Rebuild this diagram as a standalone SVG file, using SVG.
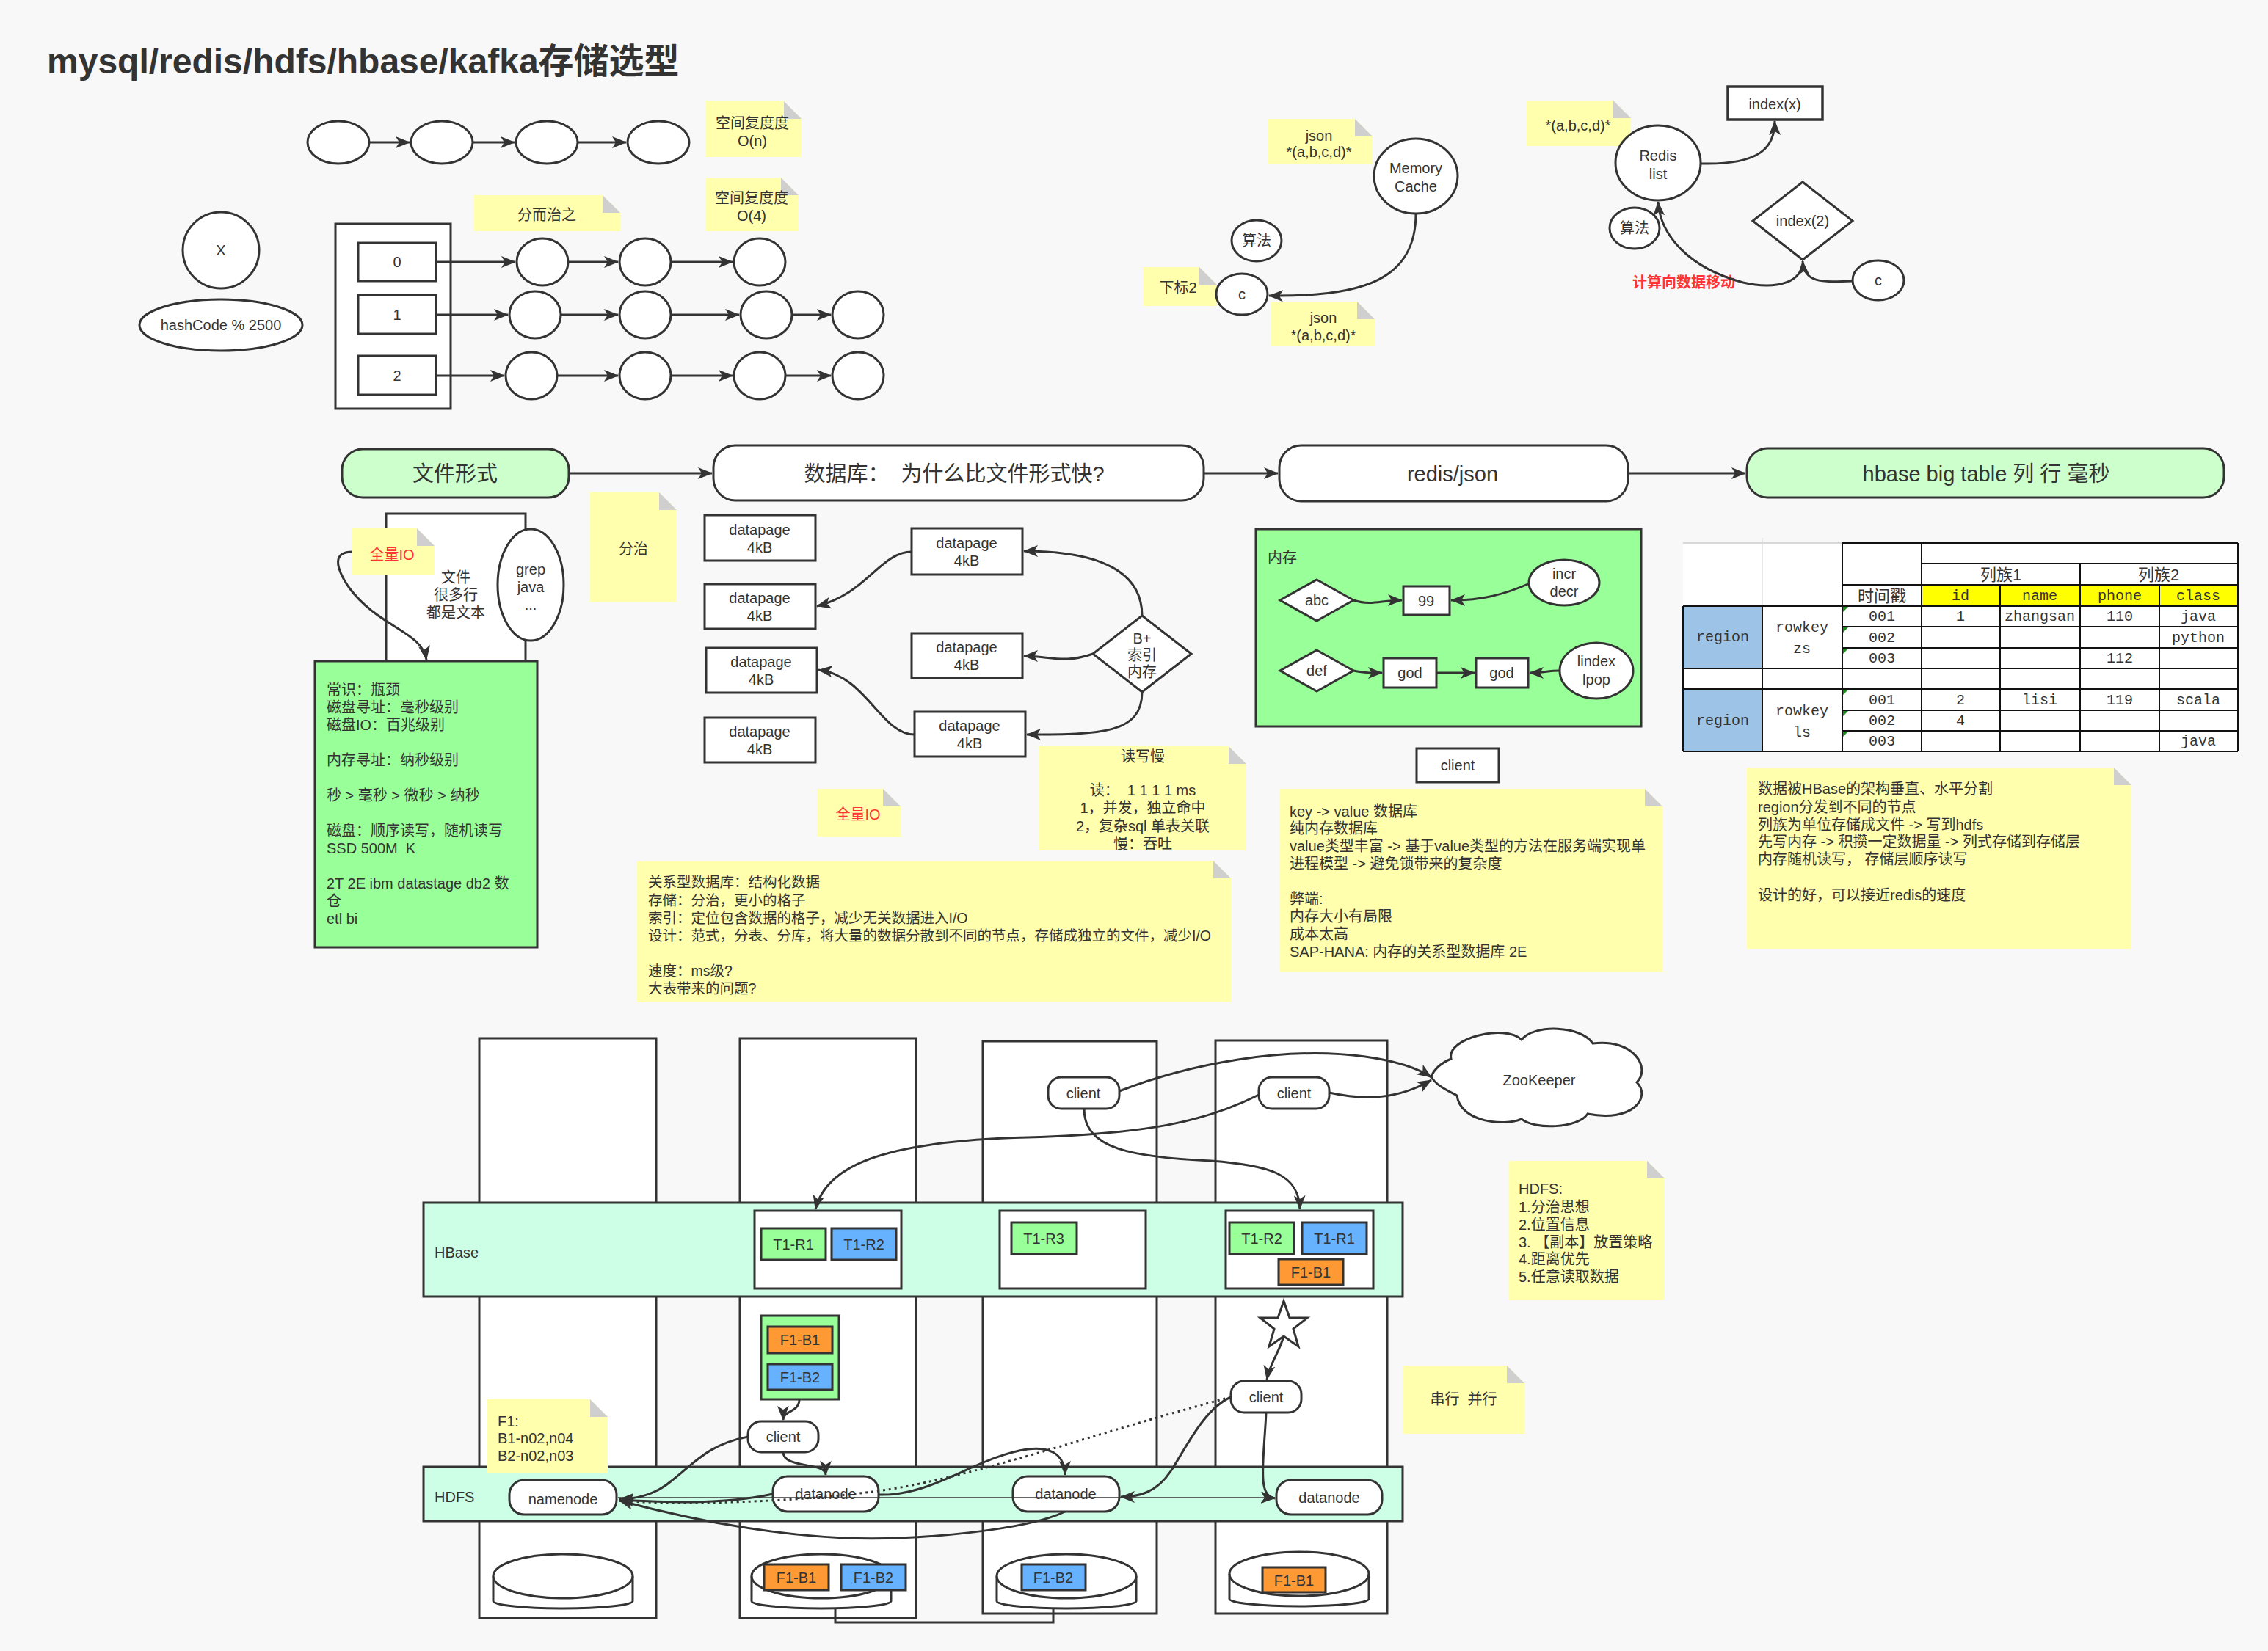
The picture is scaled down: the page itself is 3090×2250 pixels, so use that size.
<svg xmlns="http://www.w3.org/2000/svg" width="3090" height="2250" viewBox="0 0 3090 2250">
<defs>
<style>
text{font-family:"Liberation Sans","Noto Sans CJK SC",sans-serif;fill:#333;font-size:20px}
.c{text-anchor:middle;dominant-baseline:central}
.sh{fill:#fff;stroke:#333;stroke-width:3}
.note{fill:#ffffad}
.fold{fill:#cfcfcf}
.e{fill:none;stroke:#333;stroke-width:3;marker-end:url(#a)}
.thin{fill:none;stroke:#333;stroke-width:1.5;marker-end:url(#a)}
.dot{fill:none;stroke:#333;stroke-width:3;stroke-dasharray:3 5}
.g{fill:#99ff99}
.b{fill:#66b2ff}
.o{fill:#ff9933}
.m{fill:#ccffe6}
.lg{fill:#ccffcc}
.red{fill:#ff3333}
.hd{font-size:29px}
.tb{font-family:"Liberation Mono","Noto Sans CJK SC",monospace;font-size:20px}
.tc{font-size:22px}
.gl{stroke:#111;stroke-width:2;fill:none}
.sm{font-size:19.5px}
</style>
<marker id="a" viewBox="0 0 20 16" refX="19" refY="8" markerWidth="20" markerHeight="16" markerUnits="userSpaceOnUse" orient="auto">
<path d="M0,0 L20,8 L0,16 L5,8 Z" fill="#333"/>
</marker>
</defs>
<rect width="3090" height="2250" fill="#f8f8f8"/>

<text id="title" x="64" y="100" style="font-size:48px;font-weight:bold">mysql/redis/hdfs/hbase/kafka存储选型</text>

<!-- linked list -->
<g id="list-top">
<ellipse class="sh" cx="461" cy="194" rx="42" ry="29"/>
<ellipse class="sh" cx="602" cy="194" rx="42" ry="29"/>
<ellipse class="sh" cx="745" cy="194" rx="42" ry="29"/>
<ellipse class="sh" cx="897" cy="194" rx="42" ry="29"/>
</g>

<g id="note-on">
<polygon class="note" points="961,138 1068,138 1092,162 1092,214 961,214"/>
<polygon class="fold" points="1068,138 1068,162 1092,162"/>
<text class="c" x="1025" y="168">空间复度度</text>
<text class="c" x="1025" y="192">O(n)</text>
</g>
<g id="note-divide">
<polygon class="note" points="646,266 821,266 845,290 845,315 646,315"/>
<polygon class="fold" points="821,266 821,290 845,290"/>
<text class="c" x="745" y="293">分而治之</text>
</g>
<g id="note-o4">
<polygon class="note" points="961,242 1064,242 1088,266 1088,315 961,315"/>
<polygon class="fold" points="1064,242 1064,266 1088,266"/>
<text class="c" x="1024" y="270">空间复度度</text>
<text class="c" x="1024" y="294">O(4)</text>
</g>

<g id="x-node"><ellipse class="sh" cx="301" cy="341" rx="52" ry="52"/><text class="c" x="301" y="341">X</text></g>
<g id="hash-node"><ellipse class="sh" cx="301" cy="443" rx="111" ry="35"/><text class="c" x="301" y="443">hashCode % 2500</text></g>

<g id="hash-table">
<rect class="sh" x="457" y="305" width="157" height="252"/>
<rect class="sh" x="488" y="331" width="106" height="52"/><text class="c" x="541" y="357">0</text>
<rect class="sh" x="488" y="402" width="106" height="53"/><text class="c" x="541" y="429">1</text>
<rect class="sh" x="488" y="485" width="106" height="53"/><text class="c" x="541" y="512">2</text>
</g>
<g id="buckets">
<ellipse class="sh" cx="739" cy="357" rx="35" ry="32"/>
<ellipse class="sh" cx="879" cy="357" rx="35" ry="32"/>
<ellipse class="sh" cx="1035" cy="357" rx="35" ry="32"/>
<ellipse class="sh" cx="729" cy="429" rx="35" ry="32"/>
<ellipse class="sh" cx="879" cy="429" rx="35" ry="32"/>
<ellipse class="sh" cx="1044" cy="429" rx="35" ry="32"/>
<ellipse class="sh" cx="1169" cy="429" rx="35" ry="32"/>
<ellipse class="sh" cx="724" cy="512" rx="35" ry="32"/>
<ellipse class="sh" cx="879" cy="512" rx="35" ry="32"/>
<ellipse class="sh" cx="1035" cy="512" rx="35" ry="32"/>
<ellipse class="sh" cx="1169" cy="512" rx="35" ry="32"/>
</g>

<!-- memory cache / redis list -->
<g id="note-json1">
<polygon class="note" points="1728,162 1846,162 1870,186 1870,223 1728,223"/>
<polygon class="fold" points="1846,162 1846,186 1870,186"/>
<text class="c" x="1797" y="185">json</text>
<text class="c" x="1797" y="207">*(a,b,c,d)*</text>
</g>
<g id="memory-cache"><ellipse class="sh" cx="1929" cy="240" rx="57" ry="51"/><text class="c" x="1929" y="229">Memory</text><text class="c" x="1929" y="254">Cache</text></g>
<g id="algo1"><ellipse class="sh" cx="1712" cy="328" rx="34" ry="28"/><text class="c" x="1712" y="328">算法</text></g>
<g id="note-idx2">
<polygon class="note" points="1557,364 1634,364 1658,388 1658,417 1557,417"/>
<polygon class="fold" points="1634,364 1634,388 1658,388"/>
<text class="c" x="1605" y="392">下标2</text>
</g>
<g id="c1"><ellipse class="sh" cx="1692" cy="401" rx="35" ry="28"/><text class="c" x="1692" y="401">c</text></g>
<g id="note-json2">
<polygon class="note" points="1732,411 1849,411 1873,435 1873,472 1732,472"/>
<polygon class="fold" points="1849,411 1849,435 1873,435"/>
<text class="c" x="1803" y="433">json</text>
<text class="c" x="1803" y="457">*(a,b,c,d)*</text>
</g>
<g id="note-abcd">
<polygon class="note" points="2080,137 2198,137 2222,161 2222,199 2080,199"/>
<polygon class="fold" points="2198,137 2198,161 2222,161"/>
<text class="c" x="2150" y="171">*(a,b,c,d)*</text>
</g>
<g id="redis-list"><ellipse class="sh" cx="2259" cy="222" rx="58" ry="51"/><text class="c" x="2259" y="212">Redis</text><text class="c" x="2259" y="237">list</text></g>
<g id="index-x"><rect class="sh" x="2354" y="118" width="129" height="45" style="stroke-width:3.5"/><text class="c" x="2418" y="142">index(x)</text></g>
<g id="algo2"><ellipse class="sh" cx="2227" cy="311" rx="34" ry="28"/><text class="c" x="2227" y="311">算法</text></g>
<g id="index-2"><polygon class="sh" points="2456,248 2524,301 2456,354 2388,301"/><text class="c" x="2456" y="301">index(2)</text></g>
<g id="c2"><ellipse class="sh" cx="2559" cy="382" rx="35" ry="27"/><text class="c" x="2559" y="382">c</text></g>
<text id="compute-label" class="c red" x="2294" y="385" style="font-weight:bold">计算向数据移动</text>

<!-- stage headers -->
<g id="stage-file"><rect class="sh lg" x="466" y="612" width="309" height="66" rx="28"/><text class="c hd" x="620" y="646">文件形式</text></g>
<g id="stage-db"><rect class="sh" x="972" y="607" width="668" height="75" rx="30"/><text class="c hd" x="1300" y="646" xml:space="preserve">数据库：  为什么比文件形式快?</text></g>
<g id="stage-redis"><rect class="sh" x="1743" y="607" width="475" height="76" rx="30"/><text class="c hd" x="1979" y="646">redis/json</text></g>
<g id="stage-hbase"><rect class="sh lg" x="2380" y="611" width="650" height="67" rx="28"/><text class="c hd" x="2706" y="646">hbase big table 列 行 毫秒</text></g>

<!-- file form -->
<g id="file-box">
<rect class="sh" x="526" y="700" width="190" height="201"/>
<text class="c" x="621" y="787">文件</text>
<text class="c" x="621" y="811">很多行</text>
<text class="c" x="621" y="835">都是文本</text>
</g>
<g id="grep"><ellipse class="sh" cx="723" cy="797" rx="45" ry="76"/><text class="c" x="723" y="776">grep</text><text class="c" x="723" y="800">java</text><text class="c" x="723" y="824">...</text></g>
<g id="note-fullio1">
<polygon class="note" points="479,720 568,720 592,744 592,784 479,784"/>
<polygon class="fold" points="568,720 568,744 592,744"/>
<text class="c red" x="534" y="756">全量IO</text>
</g>
<g id="facts">
<rect class="sh g" x="429" y="901" width="303" height="390"/>
<text x="445" y="947">常识：瓶颈</text>
<text x="445" y="971">磁盘寻址：毫秒级别</text>
<text x="445" y="995">磁盘IO：百兆级别</text>
<text x="445" y="1043">内存寻址：纳秒级别</text>
<text x="445" y="1091">秒 &gt; 毫秒 &gt; 微秒 &gt; 纳秒</text>
<text x="445" y="1139">磁盘：顺序读写，随机读写</text>
<text x="445" y="1163" xml:space="preserve">SSD 500M  K</text>
<text x="445" y="1211">2T 2E ibm datastage db2 数</text>
<text x="445" y="1235">仓</text>
<text x="445" y="1259">etl bi</text>
</g>
<g id="note-fenzhi">
<polygon class="note" points="804,671 898,671 922,695 922,820 804,820"/>
<polygon class="fold" points="898,671 898,695 922,695"/>
<text class="c" x="863" y="748">分治</text>
</g>

<!-- database pages -->
<g id="dp-l1"><rect class="sh" x="960" y="702" width="151" height="62"/><text class="c" x="1035" y="722">datapage</text><text class="c" x="1035" y="746">4kB</text></g>
<g id="dp-l2"><rect class="sh" x="960" y="796" width="151" height="61"/><text class="c" x="1035" y="815">datapage</text><text class="c" x="1035" y="839">4kB</text></g>
<g id="dp-l3"><rect class="sh" x="962" y="883" width="151" height="61"/><text class="c" x="1037" y="902">datapage</text><text class="c" x="1037" y="926">4kB</text></g>
<g id="dp-l4"><rect class="sh" x="960" y="978" width="151" height="61"/><text class="c" x="1035" y="997">datapage</text><text class="c" x="1035" y="1021">4kB</text></g>
<g id="dp-r1"><rect class="sh" x="1242" y="720" width="151" height="63"/><text class="c" x="1317" y="740">datapage</text><text class="c" x="1317" y="764">4kB</text></g>
<g id="dp-r2"><rect class="sh" x="1242" y="863" width="151" height="61"/><text class="c" x="1317" y="882">datapage</text><text class="c" x="1317" y="906">4kB</text></g>
<g id="dp-r3"><rect class="sh" x="1246" y="970" width="151" height="61"/><text class="c" x="1321" y="989">datapage</text><text class="c" x="1321" y="1013">4kB</text></g>
<g id="bplus"><polygon class="sh" points="1556,839 1623,891 1556,943 1489,891"/><text class="c" x="1556" y="870">B+</text><text class="c" x="1556" y="893">索引</text><text class="c" x="1556" y="916">内存</text></g>
<g id="note-fullio2">
<polygon class="note" points="1113,1075 1203,1075 1227,1099 1227,1140 1113,1140"/>
<polygon class="fold" points="1203,1075 1203,1099 1227,1099"/>
<text class="c red" x="1169" y="1110">全量IO</text>
</g>
<g id="note-slow">
<polygon class="note" points="1416,1017 1674,1017 1698,1041 1698,1159 1416,1159"/>
<polygon class="fold" points="1674,1017 1674,1041 1698,1041"/>
<text class="c" x="1557" y="1031">读写慢</text>
<text class="c" x="1557" y="1077" xml:space="preserve">读：  1 1 1 1 ms</text>
<text class="c" x="1557" y="1101">1，并发，独立命中</text>
<text class="c" x="1557" y="1126">2，复杂sql 单表关联</text>
<text class="c" x="1557" y="1150">慢：吞吐</text>
</g>
<g id="note-rdb">
<polygon class="note" points="868,1173 1653,1173 1677,1197 1677,1366 868,1366"/>
<polygon class="fold" points="1653,1173 1653,1197 1677,1197"/>
<text class="sm" x="883" y="1209">关系型数据库：结构化数据</text>
<text class="sm" x="883" y="1234">存储：分治，更小的格子</text>
<text class="sm" x="883" y="1258">索引：定位包含数据的格子，减少无关数据进入I/O</text>
<text class="sm" x="883" y="1282">设计：范式，分表、分库，将大量的数据分散到不同的节点，存储成独立的文件，减少I/O</text>
<text class="sm" x="883" y="1330">速度：ms级?</text>
<text class="sm" x="883" y="1354">大表带来的问题?</text>
</g>

<!-- redis memory -->
<g id="redis-mem">
<rect class="sh g" x="1711" y="721" width="525" height="269"/>
<text x="1727" y="767">内存</text>
</g>
<g id="abc"><polygon class="sh" points="1794,790 1844,818 1794,846 1744,818"/><text class="c" x="1794" y="818">abc</text></g>
<g id="v99"><rect class="sh" x="1912" y="799" width="63" height="39"/><text class="c" x="1943" y="819">99</text></g>
<g id="incr"><ellipse class="sh" cx="2131" cy="794" rx="48" ry="31"/><text class="c" x="2131" y="782">incr</text><text class="c" x="2131" y="806">decr</text></g>
<g id="def"><polygon class="sh" points="1794,886 1844,914 1794,942 1744,914"/><text class="c" x="1794" y="914">def</text></g>
<g id="god1"><rect class="sh" x="1885" y="897" width="72" height="40"/><text class="c" x="1921" y="917">god</text></g>
<g id="god2"><rect class="sh" x="2011" y="897" width="71" height="40"/><text class="c" x="2046" y="917">god</text></g>
<g id="lindex"><ellipse class="sh" cx="2175" cy="914" rx="50" ry="38"/><text class="c" x="2175" y="901">lindex</text><text class="c" x="2175" y="926">lpop</text></g>
<g id="client-redis"><rect class="sh" x="1930" y="1020" width="112" height="46"/><text class="c" x="1986" y="1043">client</text></g>
<g id="note-kv">
<polygon class="note" points="1743,1075 2241,1075 2265,1099 2265,1324 1743,1324"/>
<polygon class="fold" points="2241,1075 2241,1099 2265,1099"/>
<text x="1757" y="1113">key -&gt; value 数据库</text>
<text x="1757" y="1136">纯内存数据库</text>
<text x="1757" y="1160">value类型丰富 -&gt; 基于value类型的方法在服务端实现单</text>
<text x="1757" y="1184">进程模型 -&gt; 避免锁带来的复杂度</text>
<text x="1757" y="1232">弊端:</text>
<text x="1757" y="1256">内存大小有局限</text>
<text x="1757" y="1280">成本太高</text>
<text x="1757" y="1304">SAP-HANA: 内存的关系型数据库 2E</text>
</g>

<!-- hbase table -->
<g id="hbase-table">
<rect x="2293" y="740" width="756" height="284" fill="#fff"/>
<line x1="2293" y1="740" x2="2510" y2="740" stroke="#ccc" stroke-width="1.5"/>
<line x1="2401" y1="733" x2="2401" y2="826" stroke="#e2e2e2" stroke-width="1.5"/>
<rect x="2618" y="797" width="431" height="29" fill="#ffff00"/>
<rect x="2293" y="826" width="108" height="85" fill="#9dc3e6"/>
<rect x="2293" y="939" width="108" height="85" fill="#9dc3e6"/>
<path class="gl" d="M2510,740H3049M2618,768H3049M2510,797H3049M2510,740V826M2618,740V826M3049,740V1024M2834,768V826M2725,797V826M2942,797V826"/>
<path class="gl" d="M2293,826H3049M2293,911H3049M2293,939H3049M2293,1024H3049M2510,854H3049M2510,883H3049M2510,968H3049M2510,996H3049"/>
<path class="gl" d="M2293,826V1024M2401,826V1024M2510,826V1024M2618,826V1024M2725,826V1024M2834,826V1024M2942,826V1024"/>
<g fill="#1a8a1a">
<polygon points="2511,827 2518,827 2511,834"/><polygon points="2511,855 2518,855 2511,862"/><polygon points="2511,884 2518,884 2511,891"/>
<polygon points="2511,940 2518,940 2511,947"/><polygon points="2511,969 2518,969 2511,976"/><polygon points="2511,997 2518,997 2511,1004"/>
</g>
<text class="c tc" x="2726" y="783">列族1</text>
<text class="c tc" x="2941" y="783">列族2</text>
<text class="c tc" x="2564" y="812">时间戳</text>
<text class="c tb" x="2671" y="812">id</text>
<text class="c tb" x="2779" y="812">name</text>
<text class="c tb" x="2888" y="812">phone</text>
<text class="c tb" x="2995" y="812">class</text>
<text class="c tb" x="2347" y="868">region</text>
<text class="c tb" x="2347" y="982">region</text>
<text class="c tb" x="2455" y="855">rowkey</text>
<text class="c tb" x="2455" y="884">zs</text>
<text class="c tb" x="2455" y="969">rowkey</text>
<text class="c tb" x="2455" y="998">ls</text>
<text class="c tb" x="2564" y="840">001</text>
<text class="c tb" x="2564" y="869">002</text>
<text class="c tb" x="2564" y="897">003</text>
<text class="c tb" x="2564" y="954">001</text>
<text class="c tb" x="2564" y="982">002</text>
<text class="c tb" x="2564" y="1010">003</text>
<text class="c tb" x="2671" y="840">1</text>
<text class="c tb" x="2779" y="840">zhangsan</text>
<text class="c tb" x="2888" y="840">110</text>
<text class="c tb" x="2995" y="840">java</text>
<text class="c tb" x="2995" y="869">python</text>
<text class="c tb" x="2888" y="897">112</text>
<text class="c tb" x="2671" y="954">2</text>
<text class="c tb" x="2779" y="954">lisi</text>
<text class="c tb" x="2888" y="954">119</text>
<text class="c tb" x="2995" y="954">scala</text>
<text class="c tb" x="2671" y="982">4</text>
<text class="c tb" x="2995" y="1010">java</text>
</g>
<g id="note-hbase">
<polygon class="note" points="2380,1046 2880,1046 2904,1070 2904,1293 2380,1293"/>
<polygon class="fold" points="2880,1046 2880,1070 2904,1070"/>
<text x="2395" y="1082">数据被HBase的架构垂直、水平分割</text>
<text x="2395" y="1107">region分发到不同的节点</text>
<text x="2395" y="1131">列族为单位存储成文件 -&gt; 写到hdfs</text>
<text x="2395" y="1154">先写内存 -&gt; 积攒一定数据量 -&gt; 列式存储到存储层</text>
<text x="2395" y="1178">内存随机读写， 存储层顺序读写</text>
<text x="2395" y="1227">设计的好，可以接近redis的速度</text>
</g>

<!-- cluster: server columns -->
<g id="server1"><rect class="sh" x="653" y="1415" width="241" height="790"/></g>
<g id="server2"><rect class="sh" x="1008" y="1415" width="240" height="790"/></g>
<g id="server3"><rect class="sh" x="1339" y="1419" width="237" height="780"/></g>
<g id="server4"><rect class="sh" x="1656" y="1418" width="234" height="781"/></g>

<g id="hbase-layer">
<rect class="sh m" x="577" y="1639" width="1334" height="128"/>
<text x="592" y="1714">HBase</text>
<rect class="sh" x="1028" y="1650" width="200" height="106"/>
<rect class="sh g" x="1037" y="1674" width="88" height="43"/><text class="c" x="1081" y="1696">T1-R1</text>
<rect class="sh b" x="1133" y="1674" width="88" height="43"/><text class="c" x="1177" y="1696">T1-R2</text>
<rect class="sh" x="1362" y="1650" width="199" height="106"/>
<rect class="sh g" x="1378" y="1666" width="89" height="43"/><text class="c" x="1422" y="1688">T1-R3</text>
<rect class="sh" x="1670" y="1650" width="201" height="106"/>
<rect class="sh g" x="1675" y="1666" width="88" height="43"/><text class="c" x="1719" y="1688">T1-R2</text>
<rect class="sh b" x="1774" y="1666" width="88" height="43"/><text class="c" x="1818" y="1688">T1-R1</text>
<rect class="sh o" x="1742" y="1716" width="88" height="35"/><text class="c" x="1786" y="1734">F1-B1</text>
</g>

<g id="file-f1">
<rect class="sh g" x="1037" y="1793" width="106" height="114"/>
<rect class="sh o" x="1046" y="1808" width="88" height="36"/><text class="c" x="1090" y="1826">F1-B1</text>
<rect class="sh b" x="1046" y="1859" width="88" height="35"/><text class="c" x="1090" y="1877">F1-B2</text>
</g>

<g id="hdfs-layer">
<rect class="sh m" x="577" y="1999" width="1334" height="74"/>
<text x="592" y="2047">HDFS</text>
</g>

<g id="cluster-edges">
<path class="e" d="M1146,2151 L1138,2151 L1138,2211 L1435,2211 L1435,2169"/>
<path class="e" d="M1089,1907 C1089,1925 1067,1922 1067,1935"/>
<path class="e" d="M1019,1958 C965,1968 945,1995 915,2018 C895,2035 870,2043 844,2043"/>
<path class="e" d="M1067,1979 C1067,2002 1125,1992 1125,2010"/>
<path class="e" d="M1053,2036 C990,2050 920,2048 844,2044"/>
<path class="e" d="M1451,2060 C1400,2085 1250,2100 1150,2096 C1020,2090 900,2060 844,2045"/>
<path class="e" d="M1197,2037 C1270,2040 1330,1985 1400,1975 C1440,1970 1451,1990 1451,2010"/>
<path class="e" d="M1725,1925 C1722,1990 1712,2040 1737,2042"/>
<path class="e" d="M1677,1904 C1640,1920 1615,1975 1595,2005 C1575,2035 1550,2040 1527,2040"/>
<path class="e" d="M1525,1487 C1620,1450 1750,1425 1860,1440 C1910,1447 1935,1458 1950,1468"/>
<path class="e" d="M1811,1489 C1860,1500 1905,1498 1950,1472"/>
<path class="e" d="M1715,1492 C1640,1530 1560,1545 1400,1550 C1200,1555 1125,1590 1111,1648"/>
<path class="e" d="M1477,1511 C1477,1565 1540,1577 1650,1582 C1730,1588 1770,1600 1771,1648"/>
<path class="e" d="M1749,1821 C1742,1845 1730,1858 1726,1880"/>
</g>

<g id="f1-note">
<polygon class="note" points="664,1907 804,1907 828,1931 828,2008 664,2008"/>
<polygon class="fold" points="804,1907 804,1931 828,1931"/>
<text x="678" y="1944">F1:</text>
<text x="678" y="1967">B1-n02,n04</text>
<text x="678" y="1991">B2-n02,n03</text>
</g>
<g id="client-f1"><rect class="sh" x="1019" y="1937" width="96" height="42" rx="18"/><text class="c" x="1067" y="1958">client</text></g>
<g id="namenode"><rect class="sh" x="694" y="2017" width="146" height="47" rx="20"/><text class="c" x="767" y="2043">namenode</text></g>
<g id="datanode1"><rect class="sh" x="1053" y="2012" width="144" height="48" rx="20"/><text class="c" x="1125" y="2036">datanode</text></g>
<g id="datanode2"><rect class="sh" x="1380" y="2012" width="145" height="48" rx="20"/><text class="c" x="1452" y="2036">datanode</text></g>
<g id="datanode3"><rect class="sh" x="1739" y="2017" width="144" height="47" rx="20"/><text class="c" x="1811" y="2041">datanode</text></g>
<g id="client-a"><rect class="sh" x="1428" y="1468" width="97" height="43" rx="18"/><text class="c" x="1476" y="1490">client</text></g>
<g id="client-b"><rect class="sh" x="1715" y="1468" width="96" height="43" rx="18"/><text class="c" x="1763" y="1490">client</text></g>
<g id="client-c"><rect class="sh" x="1677" y="1882" width="96" height="43" rx="18"/><text class="c" x="1725" y="1904">client</text></g>
<g id="star"><polygon class="sh" points="1749,1773 1757,1796 1781,1796 1762,1811 1769,1835 1749,1821 1729,1835 1736,1811 1717,1796 1741,1796"/></g>
<g id="zookeeper">
<path class="sh" d="M1950,1467 C1955,1455 1965,1448 1977,1443 C1970,1415 2050,1395 2073,1417 C2090,1395 2155,1398 2170,1422 C2225,1415 2250,1455 2230,1475 C2250,1495 2225,1530 2163,1518 C2150,1538 2090,1540 2073,1525 C2050,1535 1990,1530 1985,1493 C1970,1485 1955,1478 1950,1467 Z"/>
<text class="c" x="2097" y="1472">ZooKeeper</text>
</g>

<!-- storage disks -->
<g id="disks">
<path class="sh" d="M672,2148 A95,30 0 0 1 862,2148 L862,2182 A95,10 0 0 1 672,2182 Z"/>
<path class="sh" style="fill:none" d="M672,2148 A95,30 0 0 0 862,2148"/>
<path class="sh" d="M1024,2148 A95,30 0 0 1 1214,2148 L1214,2182 A95,10 0 0 1 1024,2182 Z"/>
<path class="sh" style="fill:none" d="M1024,2148 A95,30 0 0 0 1214,2148"/>
<path class="sh" d="M1358,2148 A95,30 0 0 1 1548,2148 L1548,2182 A95,10 0 0 1 1358,2182 Z"/>
<path class="sh" style="fill:none" d="M1358,2148 A95,30 0 0 0 1548,2148"/>
<path class="sh" d="M1675,2145 A95,30 0 0 1 1865,2145 L1865,2179 A95,10 0 0 1 1675,2179 Z"/>
<path class="sh" style="fill:none" d="M1675,2145 A95,30 0 0 0 1865,2145"/>
<rect class="sh o" x="1041" y="2132" width="88" height="35"/><text class="c" x="1085" y="2150">F1-B1</text>
<rect class="sh b" x="1146" y="2132" width="88" height="35"/><text class="c" x="1190" y="2150">F1-B2</text>
<rect class="sh b" x="1392" y="2132" width="87" height="35"/><text class="c" x="1435" y="2150">F1-B2</text>
<rect class="sh o" x="1720" y="2136" width="86" height="34"/><text class="c" x="1763" y="2154">F1-B1</text>
</g>

<!-- namenode link and read path drawn over the nodes -->
<g id="cluster-overlay">
<path class="thin" d="M842,2041 L1737,2041"/>
<path class="dot" d="M1677,1904 C1500,1950 1310,2020 1180,2034 C1050,2050 900,2050 844,2045"/>
</g>

<g id="note-hdfs">
<polygon class="note" points="2055,1582 2244,1582 2268,1606 2268,1772 2055,1772"/>
<polygon class="fold" points="2244,1582 2244,1606 2268,1606"/>
<text x="2069" y="1627">HDFS:</text>
<text x="2069" y="1652">1.分治思想</text>
<text x="2069" y="1676">2.位置信息</text>
<text x="2069" y="1700">3. 【副本】放置策略</text>
<text x="2069" y="1723">4.距离优先</text>
<text x="2069" y="1747">5.任意读取数据</text>
</g>
<g id="note-serial">
<polygon class="note" points="1911,1861 2053,1861 2077,1885 2077,1954 1911,1954"/>
<polygon class="fold" points="2053,1861 2053,1885 2077,1885"/>
<text class="c" x="1994" y="1907" xml:space="preserve">串行  并行</text>
</g>

<!-- connectors (upper part) -->
<g id="connectors">
<path class="e" d="M503,194 L558,194"/>
<path class="e" d="M644,194 L701,194"/>
<path class="e" d="M787,194 L853,194"/>
<path class="e" d="M594,357 L702,357"/>
<path class="e" d="M774,357 L842,357"/>
<path class="e" d="M914,357 L998,357"/>
<path class="e" d="M594,429 L692,429"/>
<path class="e" d="M764,429 L842,429"/>
<path class="e" d="M914,429 L1007,429"/>
<path class="e" d="M1079,429 L1132,429"/>
<path class="e" d="M594,512 L687,512"/>
<path class="e" d="M759,512 L842,512"/>
<path class="e" d="M914,512 L998,512"/>
<path class="e" d="M1070,512 L1132,512"/>
<path class="e" d="M1929,291 C1929,380 1860,405 1729,403"/>
<path class="e" d="M2317,223 C2400,225 2418,200 2418,165"/>
<path class="e" d="M2524,383 C2480,385 2458,385 2456,356"/>
<path class="e" d="M2455,365 C2445,392 2405,392 2375,385 C2300,365 2262,320 2259,275"/>
<path class="e" d="M775,645 L970,645"/>
<path class="e" d="M1640,645 L1741,645"/>
<path class="e" d="M2218,645 L2378,645"/>
<path class="e" d="M480,752 C455,752 455,770 475,800 C515,855 575,860 581,899"/>
<path class="e" d="M1556,839 C1556,780 1500,751 1395,751"/>
<path class="e" d="M1489,891 C1450,905 1430,894 1395,894"/>
<path class="e" d="M1556,943 C1556,1000 1500,1001 1399,1001"/>
<path class="e" d="M1242,752 C1200,752 1180,810 1113,826"/>
<path class="e" d="M1246,1001 C1200,1001 1180,920 1115,913"/>
<path class="e" d="M1844,818 C1870,826 1880,818 1910,818"/>
<path class="e" d="M2084,795 C2050,810 2020,818 1977,818"/>
<path class="e" d="M1844,914 C1860,917 1866,917 1883,917"/>
<path class="e" d="M1957,917 L2009,917"/>
<path class="e" d="M2125,914 C2110,914 2100,917 2084,917"/>
</g>
</svg>
